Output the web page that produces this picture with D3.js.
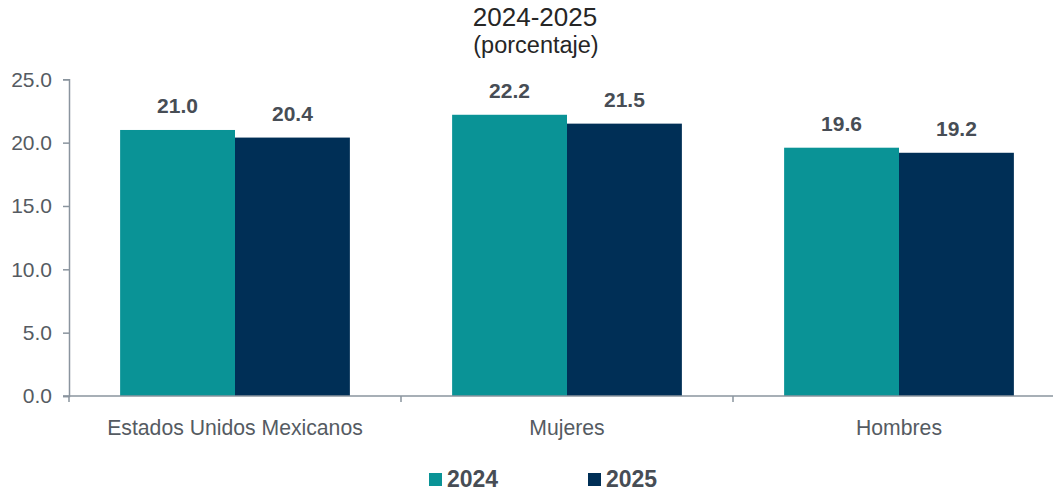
<!DOCTYPE html>
<html><head><meta charset="utf-8">
<script src="https://cdn.jsdelivr.net/npm/d3@7"></script>
<style>body{margin:0;background:#fff}svg{display:block;font-family:Arial,"Liberation Sans",sans-serif}</style>
</head><body><svg id="c" width="1053" height="491"></svg>
<script>
const categories = ["Estados Unidos Mexicanos","Mujeres","Hombres"];
const seriesNames = ["2024","2025"];
const values2024 = [21.0, 22.2, 19.6];
const values2025 = [20.4, 21.5, 19.2];
const yTicks = [0,5,10,15,20,25];
const titleLines = ["2024-2025","(porcentaje)"];
const colors = ["#0a9396","#002f56"];

const svg = d3.select("#c");
const x0 = d3.scaleBand().domain(categories).range([69,1065]).paddingInner(0).paddingOuter(0);
const x1 = d3.scaleBand().domain(seriesNames).range([0, x0.bandwidth()]).paddingInner(0).paddingOuter(0.445);
const y = d3.scaleLinear().domain([0,25]).range([396,79.3]);

// title
svg.append("text").attr("x",535).attr("y",26).attr("text-anchor","middle").attr("font-size",26).attr("fill","#262626").text(titleLines[0]);
svg.append("text").attr("x",536).attr("y",53).attr("text-anchor","middle").attr("font-size",23.5).attr("fill","#262626").text(titleLines[1]);

// y axis
const ya = svg.append("g").attr("transform","translate(69,0)")
  .call(d3.axisLeft(y).tickValues(yTicks).tickFormat(d3.format(".1f")).tickSize(6).tickPadding(11));
ya.select(".domain").attr("stroke","#8a949e").attr("stroke-width",1.5);
ya.selectAll(".tick line").attr("stroke","#8a949e").attr("stroke-width",1.5);
ya.selectAll(".tick text").attr("font-size",21).attr("fill","#555b62").attr("font-family","Arial,'Liberation Sans',sans-serif");

// bars
const data = categories.map((c,i)=>({c, v:[values2024[i], values2025[i]]}));
const g = svg.append("g");
data.forEach(d=>{
  seriesNames.forEach((s,j)=>{
    const xx = x0(d.c)+x1(s);
    g.append("rect").attr("x",xx).attr("width",x1.bandwidth()).attr("y",y(d.v[j])).attr("height",y(0)-y(d.v[j])).attr("fill",colors[j]);
    g.append("text").attr("x",xx+x1.bandwidth()/2).attr("y",y(d.v[j])-17).attr("text-anchor","middle")
      .attr("font-size",21).attr("font-weight","bold").attr("fill","#474d55").text(d.v[j].toFixed(1));
  });
});

// x axis
const xa = svg.append("g").attr("transform","translate(0,396)")
  .call(d3.axisBottom(x0).tickSize(0).tickPadding(24));
xa.select(".domain").remove();
xa.append("line").attr("x1",63).attr("x2",1065).attr("y1",0).attr("y2",0).attr("stroke","#8a949e").attr("stroke-width",1.5);
x0.domain().forEach(c=>{
  xa.append("line").attr("x1",x0(c)).attr("x2",x0(c)).attr("y1",0).attr("y2",6).attr("stroke","#8a949e").attr("stroke-width",1.5);
});
xa.append("line").attr("x1",1065).attr("x2",1065).attr("y1",0).attr("y2",6).attr("stroke","#8a949e").attr("stroke-width",1.5);
xa.selectAll(".tick text").attr("font-size",21.2).attr("fill","#555b62").attr("font-family","Arial,'Liberation Sans',sans-serif");

// legend
const legX = [429, 588];
seriesNames.forEach((s,j)=>{
  svg.append("rect").attr("x",legX[j]).attr("y",473).attr("width",13).attr("height",13).attr("fill",colors[j]);
  svg.append("text").attr("x",legX[j]+18).attr("y",487).attr("font-size",23).attr("font-weight","bold").attr("fill","#474d55").text(s);
});
</script></body></html>
